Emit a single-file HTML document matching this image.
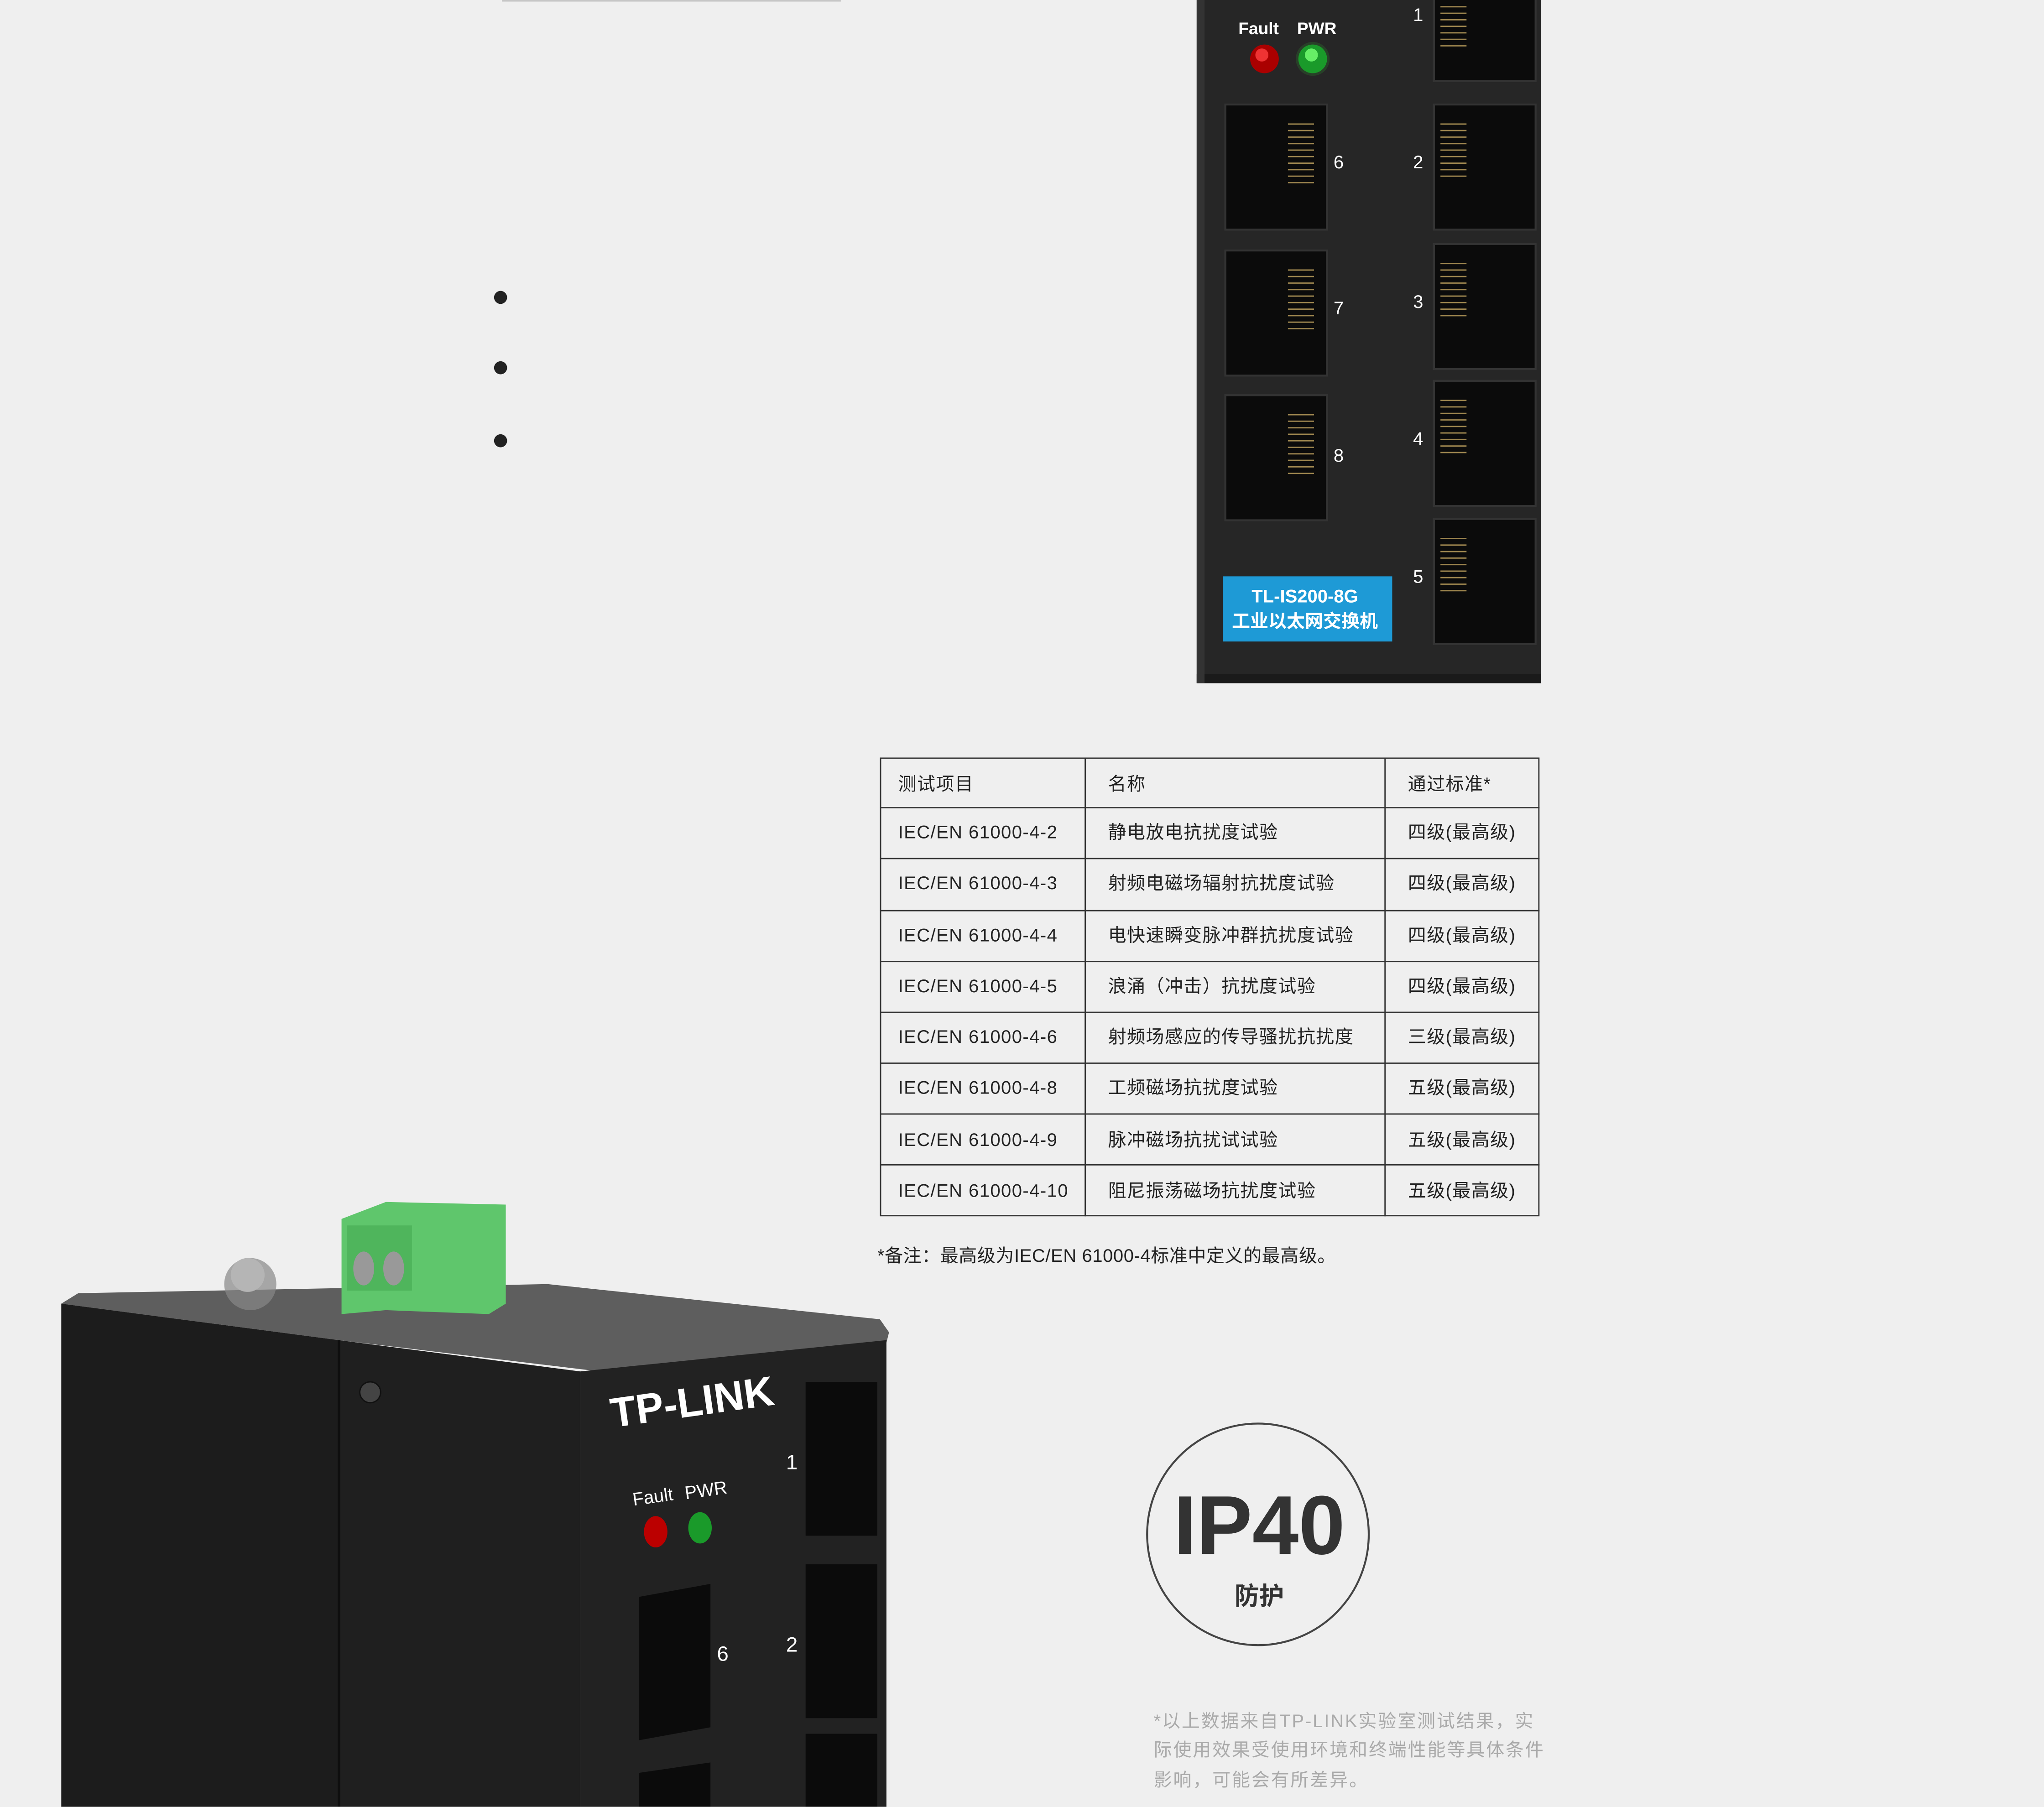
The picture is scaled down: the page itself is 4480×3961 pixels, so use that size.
<!DOCTYPE html>
<html><head><meta charset="utf-8"><style>
html,body{margin:0;padding:0;background:#efefef;}
svg{display:block;}
text{font-family:"Liberation Sans","Noto Sans CJK SC",sans-serif;}
</style></head><body>
<svg width="4480" height="3961" viewBox="0 0 1568 1386" xmlns="http://www.w3.org/2000/svg">
<rect width="1568" height="1386" fill="#efefef"/>
<line x1="385" y1="0.5" x2="645" y2="0.5" stroke="#bbb" stroke-width="1"/>
<circle cx="384" cy="228" r="5" fill="#222"/>
<circle cx="384" cy="282" r="5" fill="#222"/>
<circle cx="384" cy="338" r="5" fill="#222"/>

<!-- top switch -->
<rect x="918" y="-5" width="264" height="529" fill="#262626"/>
<rect x="918" y="517" width="264" height="7" fill="#1a1a1a"/>
<rect x="918" y="-5" width="6" height="529" fill="#333"/>
<text x="950" y="26" font-size="13" font-weight="bold" fill="#fff">Fault</text>
<text x="995" y="26" font-size="13" font-weight="bold" fill="#fff">PWR</text>
<circle cx="970" cy="45" r="11" fill="#a00"/><circle cx="968" cy="42" r="5" fill="#e33"/>
<circle cx="1007" cy="45" r="13" fill="#2a5a2a" opacity="0.5"/>
<circle cx="1007" cy="45" r="11" fill="#1a9a2a"/><circle cx="1006" cy="42" r="5" fill="#6e6"/>
<g fill="#0b0b0b" stroke="#333" stroke-width="1.5">
<rect x="940" y="80" width="78" height="96"/><rect x="940" y="192" width="78" height="96"/><rect x="940" y="303" width="78" height="96"/>
<rect x="1100" y="-5" width="78" height="67"/><rect x="1100" y="80" width="78" height="96"/><rect x="1100" y="187" width="78" height="96"/><rect x="1100" y="292" width="78" height="96"/><rect x="1100" y="398" width="78" height="96"/>
</g>
<g stroke="#a08850" stroke-width="1">
<path d="M988 95h20M988 100h20M988 105h20M988 110h20M988 115h20M988 120h20M988 125h20M988 130h20M988 135h20M988 140h20"/>
<path d="M988 207h20M988 212h20M988 217h20M988 222h20M988 227h20M988 232h20M988 237h20M988 242h20M988 247h20M988 252h20"/>
<path d="M988 318h20M988 323h20M988 328h20M988 333h20M988 338h20M988 343h20M988 348h20M988 353h20M988 358h20M988 363h20"/>
<path d="M1105 5h20M1105 10h20M1105 15h20M1105 20h20M1105 25h20M1105 30h20M1105 35h20"/>
<path d="M1105 95h20M1105 100h20M1105 105h20M1105 110h20M1105 115h20M1105 120h20M1105 125h20M1105 130h20M1105 135h20"/>
<path d="M1105 202h20M1105 207h20M1105 212h20M1105 217h20M1105 222h20M1105 227h20M1105 232h20M1105 237h20M1105 242h20"/>
<path d="M1105 307h20M1105 312h20M1105 317h20M1105 322h20M1105 327h20M1105 332h20M1105 337h20M1105 342h20M1105 347h20"/>
<path d="M1105 413h20M1105 418h20M1105 423h20M1105 428h20M1105 433h20M1105 438h20M1105 443h20M1105 448h20M1105 453h20"/>
</g>
<g font-size="14" fill="#fff">
<text x="1023" y="129">6</text><text x="1023" y="241">7</text><text x="1023" y="354">8</text>
<text x="1084" y="16">1</text><text x="1084" y="129">2</text><text x="1084" y="236">3</text><text x="1084" y="341">4</text><text x="1084" y="447">5</text>
</g>
<rect x="938" y="442" width="130" height="50" fill="#1e9ad6"/>
<text x="1001" y="462" font-size="14" font-weight="bold" fill="#fff" text-anchor="middle">TL-IS200-8G</text>
<text x="1001" y="481" font-size="14" font-weight="bold" fill="#fff" text-anchor="middle">工业以太网交换机</text>

<!-- table -->
<g stroke="#333" stroke-width="1" fill="none">
<rect x="675.5" y="581.5" width="505" height="351"/>
<line x1="832.5" y1="581" x2="832.5" y2="933"/><line x1="1062.5" y1="581" x2="1062.5" y2="933"/>
<path d="M675 619.5h506M675 658.5h506M675 698.5h506M675 737.5h506M675 776.5h506M675 815.5h506M675 854.5h506M675 893.5h506"/>
</g>
<g font-size="14" fill="#222" letter-spacing="0.5">
<text x="689" y="606">测试项目</text><text x="850" y="606">名称</text><text x="1080" y="606">通过标准*</text>
<text x="689" y="643">IEC/EN 61000-4-2</text><text x="850" y="643">静电放电抗扰度试验</text><text x="1080" y="643">四级(最高级)</text>
<text x="689" y="682">IEC/EN 61000-4-3</text><text x="850" y="682">射频电磁场辐射抗扰度试验</text><text x="1080" y="682">四级(最高级)</text>
<text x="689" y="722">IEC/EN 61000-4-4</text><text x="850" y="722">电快速瞬变脉冲群抗扰度试验</text><text x="1080" y="722">四级(最高级)</text>
<text x="689" y="761">IEC/EN 61000-4-5</text><text x="850" y="761">浪涌（冲击）抗扰度试验</text><text x="1080" y="761">四级(最高级)</text>
<text x="689" y="800">IEC/EN 61000-4-6</text><text x="850" y="800">射频场感应的传导骚扰抗扰度</text><text x="1080" y="800">三级(最高级)</text>
<text x="689" y="839">IEC/EN 61000-4-8</text><text x="850" y="839">工频磁场抗扰度试验</text><text x="1080" y="839">五级(最高级)</text>
<text x="689" y="879">IEC/EN 61000-4-9</text><text x="850" y="879">脉冲磁场抗扰试试验</text><text x="1080" y="879">五级(最高级)</text>
<text x="689" y="918">IEC/EN 61000-4-10</text><text x="850" y="918">阻尼振荡磁场抗扰度试验</text><text x="1080" y="918">五级(最高级)</text>
<text x="673" y="968" letter-spacing="0.2">*备注：最高级为IEC/EN 61000-4标准中定义的最高级。</text>
</g>

<!-- IP40 -->
<circle cx="965" cy="1177" r="85" fill="none" stroke="#444" stroke-width="1.5"/>
<text x="966" y="1192" font-size="64" font-weight="bold" fill="#333" text-anchor="middle">IP40</text>
<text x="966" y="1231" font-size="19" font-weight="bold" fill="#333" text-anchor="middle">防护</text>
<g font-size="14" fill="#aaa" letter-spacing="1">
<text x="885" y="1325">*以上数据来自TP-LINK实验室测试结果，实</text>
<text x="885" y="1347">际使用效果受使用环境和终端性能等具体条件</text>
<text x="885" y="1370">影响，可能会有所差异。</text>
</g>

<!-- bottom switch -->
<polygon points="47,1000 60,992 420,985 675,1012 682,1022 680,1030 460,1052 260,1028" fill="#5e5e5e"/>
<polygon points="47,1000 260,1028 260,1386 47,1386" fill="#1c1c1c"/>
<polygon points="260,1028 445,1052 445,1386 260,1386" fill="#1f1f1f"/>
<polygon points="445,1052 680,1028 680,1386 445,1386" fill="#222"/>
<line x1="260" y1="1028" x2="260" y2="1386" stroke="#0e0e0e" stroke-width="2"/>
<circle cx="284" cy="1068" r="8" fill="#444" stroke="#111"/>
<circle cx="192" cy="985" r="20" fill="#888" opacity="0.7"/>
<circle cx="190" cy="978" r="13" fill="#b5b5b5"/>
<polygon points="296,922 388,924 388,1000 375,1008 296,1005 262,1008 262,935" fill="#5fc66c"/>
<rect x="266" y="940" width="50" height="50" fill="#4fb55c"/>
<ellipse cx="279" cy="973" rx="8" ry="13" fill="#999"/><ellipse cx="302" cy="973" rx="8" ry="13" fill="#999"/>
<text x="470" y="1095" font-size="32" font-weight="bold" fill="#fff" transform="rotate(-8 470 1095)">TP-LINK</text>
<text x="486" y="1155" font-size="14" fill="#fff" transform="rotate(-8 486 1155)">Fault</text>
<text x="526" y="1150" font-size="14" fill="#fff" transform="rotate(-8 526 1150)">PWR</text>
<ellipse cx="503" cy="1175" rx="9" ry="12" fill="#b00"/>
<ellipse cx="537" cy="1172" rx="9" ry="12" fill="#1a9a2a"/>
<g fill="#0b0b0b">
<rect x="618" y="1060" width="55" height="118"/><rect x="618" y="1200" width="55" height="118"/><rect x="618" y="1330" width="55" height="56"/>
<polygon points="490,1225 545,1215 545,1325 490,1335"/>
<polygon points="490,1360 545,1352 545,1386 490,1386"/>
</g>
<text x="603" y="1127" font-size="16" fill="#fff">1</text>
<text x="603" y="1267" font-size="16" fill="#fff">2</text>
<text x="550" y="1274" font-size="16" fill="#fff">6</text>
</svg>
</body></html>
